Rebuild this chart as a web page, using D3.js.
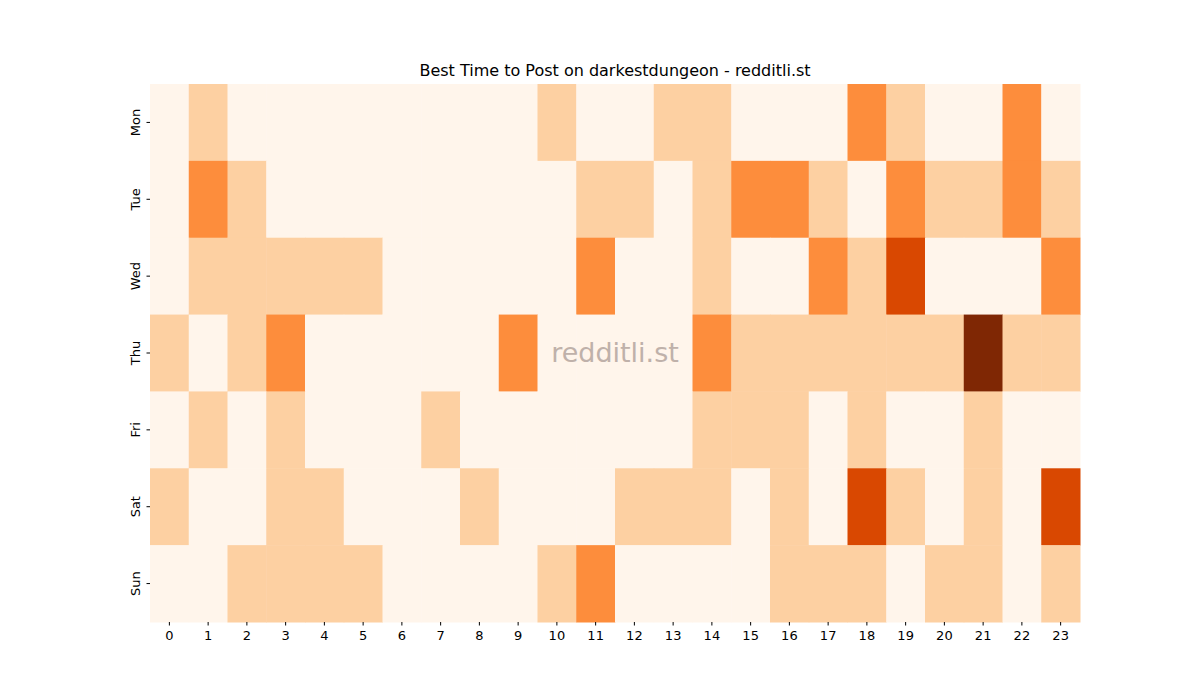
<!DOCTYPE html>
<html><head><meta charset="utf-8">
<script src="https://cdn.jsdelivr.net/npm/d3@7"></script>
<style>body{margin:0;background:#fff;font-family:"DejaVu Sans",sans-serif;}</style>
</head><body>
<svg id="c" width="1200" height="700"></svg>
<script>
const days = ["Mon","Tue","Wed","Thu","Fri","Sat","Sun"];
const hours = d3.range(24).map(String);
const mon = [0,1,0,0,0,0,0,0,0,0,1,0,0,1,1,0,0,0,2,1,0,0,2,0];
const tue = [0,2,1,0,0,0,0,0,0,0,0,1,1,0,1,2,2,1,0,2,1,1,2,1];
const wed = [0,1,1,1,1,1,0,0,0,0,0,2,0,0,1,0,0,2,1,3,0,0,0,2];
const thu = [1,0,1,2,0,0,0,0,0,2,0,0,0,0,2,1,1,1,1,1,1,4,1,1];
const fri = [0,1,0,1,0,0,0,1,0,0,0,0,0,0,1,1,1,0,1,0,0,1,0,0];
const sat = [1,0,0,1,1,0,0,0,1,0,0,0,1,1,1,0,1,0,3,1,0,1,0,3];
const sun = [0,0,1,1,1,1,0,0,0,0,1,2,0,0,0,0,1,1,1,0,1,1,0,1];
const rows = [mon,tue,wed,thu,fri,sat,sun];
const palette = ["#fff5eb","#fdd0a2","#fd8d3c","#d94801","#7f2704"];

const svg = d3.select("#c");
const L=150,R=1080,T=84,B=622;
const x = d3.scaleBand().domain(hours).range([L,R]);
const y = d3.scaleBand().domain(days).range([T,B]);
const color = d3.scaleOrdinal().domain([0,1,2,3,4]).range(palette);
const cells=[];
rows.forEach((r,i)=>r.forEach((v,j)=>cells.push({d:days[i],h:hours[j],v})));
svg.append("g").selectAll("rect").data(cells).join("rect")
 .attr("x",d=>x(d.h)).attr("y",d=>y(d.d))
 .attr("width",x.bandwidth()+0.5).attr("height",y.bandwidth()+0.5)
 .attr("fill",d=>color(d.v));
const xa = svg.append("g").attr("transform",`translate(0,${B})`).call(d3.axisBottom(x).tickSize(3.5).tickPadding(5));
const ya = svg.append("g").attr("transform",`translate(${L},0)`).call(d3.axisLeft(y).tickSize(3.5).tickPadding(5));
[xa,ya].forEach(a=>{a.select(".domain").remove();a.selectAll("text").attr("font-size",13).attr("font-family","DejaVu Sans").attr("fill","#000");});
ya.selectAll(".tick text").attr("transform","rotate(-90)").attr("text-anchor","middle").attr("x",0).attr("dy",0).attr("y",-10);
svg.append("text").attr("x",(L+R)/2).attr("y",76).attr("text-anchor","middle").attr("font-size",16).text("Best Time to Post on darkestdungeon - redditli.st");
svg.append("text").attr("x",(L+R)/2).attr("y",362).attr("text-anchor","middle").attr("font-size",27).attr("fill","#b9aaa3").attr("opacity",0.9).text("redditli.st");
</script></body></html>
